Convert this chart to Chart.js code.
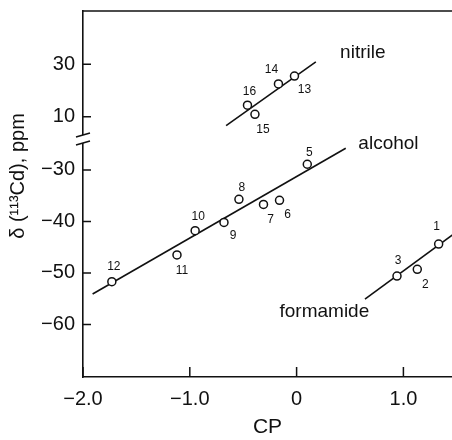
<!DOCTYPE html>
<html><head><meta charset="utf-8">
<script src="https://cdn.jsdelivr.net/npm/chart.js@4"></script>
<style>html,body{margin:0;padding:0;background:#fff}</style>
</head><body>
<canvas id="c" width="452" height="440"></canvas>
<script>
// ---- data ----
const nitrileIds = ['13','14','15','16'];
const nitrileCP = [-0.02, -0.17, -0.39, -0.46];
const nitrileShift = [25.5, 22.5, 10.9, 14.4];

const alcoholIds = ['5','6','7','8','9','10','11','12'];
const alcoholCP = [0.10, -0.16, -0.31, -0.54, -0.68, -0.95, -1.12, -1.73];
const alcoholShift = [-28.9, -35.9, -36.7, -35.7, -40.2, -41.8, -46.5, -51.7];

const formamideIds = ['1','2','3'];
const formamideCP = [1.33, 1.13, 0.94];
const formamideShift = [-44.4, -49.3, -50.6];

// regression lines (end points as drawn)
const nitrileFitCP = [-0.66, 0.18];
const nitrileFitShift = [6.6, 30.9];
const alcoholFitCP = [-1.91, 0.46];
const alcoholFitShift = [-54.1, -25.8];
const formamideFitCP = [0.64, 1.46];
const formamideFitShift = [-55.1, -42.6];

// ticks
const xTicks = [-2, -1, 0, 1];
const xTickLabels = ['\u22122.0', '\u22121.0', '0', '1.0'];
const yLowTicks = [-60, -50, -40, -30];
const yLowTickLabels = ['\u221260', '\u221250', '\u221240', '\u221230'];
const yUpTicks = [10, 30];
const yUpTickLabels = ['10', '30'];

// group label anchors (data coordinates)
const groupNames = ['nitrile', 'alcohol', 'formamide'];
const groupLabelCP = [0.62, 0.86, 0.26];
const groupLabelShift = [34.3, -25.0, -57.6];
const groupLabelAxis = ['yUp', 'yLow', 'yLow'];

// ---- styling ----
const INK = '#111';
const FONT = "'Liberation Sans', Arial, sans-serif";
const labelOffsets = {
  '13':[10,14], '14':[-7,-14], '15':[8,15], '16':[2,-13],
  '5':[2,-12], '6':[8,14], '7':[7,15], '8':[3,-12], '9':[9,13], '10':[3,-14], '11':[5,16], '12':[2,-15],
  '1':[-2,-17], '2':[8,15], '3':[1,-15]
};

const pts = (xs, ys) => xs.map((x, i) => ({x: x, y: ys[i]}));

function pointSet(ids, xs, ys, axis) {
  return {data: pts(xs, ys), ids: ids, yAxisID: axis, showLine: false,
    pointRadius: 4, pointHoverRadius: 4, pointBorderWidth: 1.5,
    pointBorderColor: INK, pointBackgroundColor: '#fff', order: 0};
}
function lineSet(xs, ys, axis) {
  return {data: pts(xs, ys), yAxisID: axis, showLine: true, pointRadius: 0,
    borderColor: INK, borderWidth: 1.6, order: 1};
}

const fitY = s => { s.width = 83; s.paddingTop = 0; s.paddingBottom = 0; s.paddingLeft = 0; s.paddingRight = 0; };

const deco = {
  id: 'deco',
  afterDraw(chart) {
    const ctx = chart.ctx, ca = chart.chartArea;
    const sx = chart.scales.x, yl = chart.scales.yLow, yu = chart.scales.yUp;
    ctx.save();
    ctx.strokeStyle = INK; ctx.lineWidth = 1.5;
    // top frame line
    ctx.beginPath(); ctx.moveTo(ca.left - 1, ca.top); ctx.lineTo(ca.right, ca.top); ctx.stroke();
    // inward tick marks
    ctx.beginPath();
    sx.ticks.forEach((t, i) => { const p = sx.getPixelForTick(i); ctx.moveTo(p, ca.bottom); ctx.lineTo(p, ca.bottom - 10); });
    [yl, yu].forEach(s => s.ticks.forEach((t, i) => { const p = s.getPixelForTick(i); ctx.moveTo(ca.left, p); ctx.lineTo(ca.left + 8, p); }));
    ctx.stroke();
    // axis break
    const yb = yu.bottom;
    ctx.fillStyle = '#fff'; ctx.fillRect(ca.left - 3, yb - 4, 6, 8);
    ctx.beginPath();
    ctx.moveTo(ca.left - 7, yb - 2); ctx.lineTo(ca.left + 7, yb - 6);
    ctx.moveTo(ca.left - 7, yb + 6); ctx.lineTo(ca.left + 7, yb + 2);
    ctx.stroke();
    // point numbers
    ctx.fillStyle = INK; ctx.textAlign = 'center'; ctx.textBaseline = 'middle';
    ctx.font = '12px ' + FONT;
    chart.data.datasets.forEach((ds, di) => {
      if (!ds.ids) return;
      const meta = chart.getDatasetMeta(di);
      meta.data.forEach((el, i) => {
        const o = labelOffsets[ds.ids[i]] || [0, -12];
        ctx.fillText(ds.ids[i], el.x + o[0], el.y + o[1]);
      });
    });
    // group names
    ctx.font = '19px ' + FONT;
    groupNames.forEach((n, i) => {
      const y = chart.scales[groupLabelAxis[i]].getPixelForValue(groupLabelShift[i]);
      const x = sx.getPixelForValue(groupLabelCP[i]);
      ctx.fillText(n, x, y);
    });
    // y-axis title spanning both segments
    ctx.font = '20px ' + FONT;
    ctx.translate(18, 176); ctx.rotate(-Math.PI / 2);
    ctx.fillText('\u03b4 (\u00b9\u00b9\u00b3Cd), ppm', 0, 0);
    ctx.restore();
  }
};

new Chart(document.getElementById('c'), {
  type: 'scatter',
  data: {datasets: [
    pointSet(nitrileIds, nitrileCP, nitrileShift, 'yUp'),
    pointSet(alcoholIds, alcoholCP, alcoholShift, 'yLow'),
    pointSet(formamideIds, formamideCP, formamideShift, 'yLow'),
    lineSet(nitrileFitCP, nitrileFitShift, 'yUp'),
    lineSet(alcoholFitCP, alcoholFitShift, 'yLow'),
    lineSet(formamideFitCP, formamideFitShift, 'yLow')
  ]},
  options: {
    responsive: false, animation: false, devicePixelRatio: 1,
    layout: {autoPadding: false, padding: {top: 11, left: 0, right: 0, bottom: 0}},
    plugins: {legend: {display: false}, tooltip: {enabled: false}},
    scales: {
      x: {type: 'linear', position: 'bottom', min: -2, max: 1.455,
        grid: {display: false, drawTicks: false},
        border: {display: true, color: INK, width: 1.6},
        afterBuildTicks: s => { s.ticks = xTicks.map(v => ({value: v})); },
        ticks: {callback: (v, i) => xTickLabels[i], padding: 10, color: INK,
          font: {size: 20, family: FONT}, maxRotation: 0, autoSkip: false},
        title: {display: true, text: 'CP', color: INK, font: {size: 21, family: FONT}, padding: {top: 0, bottom: 0}},
        afterFit: s => { s.height = 63; s.paddingLeft = 0; s.paddingRight = 0; }
      },
      yLow: {type: 'linear', position: 'left', stack: 'y', stackWeight: 238, min: -70.2, max: -24.0,
        grid: {display: false, drawTicks: false},
        border: {display: true, color: INK, width: 1.6},
        afterBuildTicks: s => { s.ticks = yLowTicks.map(v => ({value: v})); },
        ticks: {callback: (v, i) => yLowTickLabels[i], padding: 8, color: INK, font: {size: 20, family: FONT}, autoSkip: false},
        afterFit: fitY
      },
      yUp: {type: 'linear', position: 'left', stack: 'y', stackWeight: 128, min: 1.5, max: 50.3,
        grid: {display: false, drawTicks: false},
        border: {display: true, color: INK, width: 1.6},
        afterBuildTicks: s => { s.ticks = yUpTicks.map(v => ({value: v})); },
        ticks: {callback: (v, i) => yUpTickLabels[i], padding: 8, color: INK, font: {size: 20, family: FONT}, autoSkip: false},
        afterFit: fitY
      }
    }
  },
  plugins: [deco]
});
</script>
</body></html>
